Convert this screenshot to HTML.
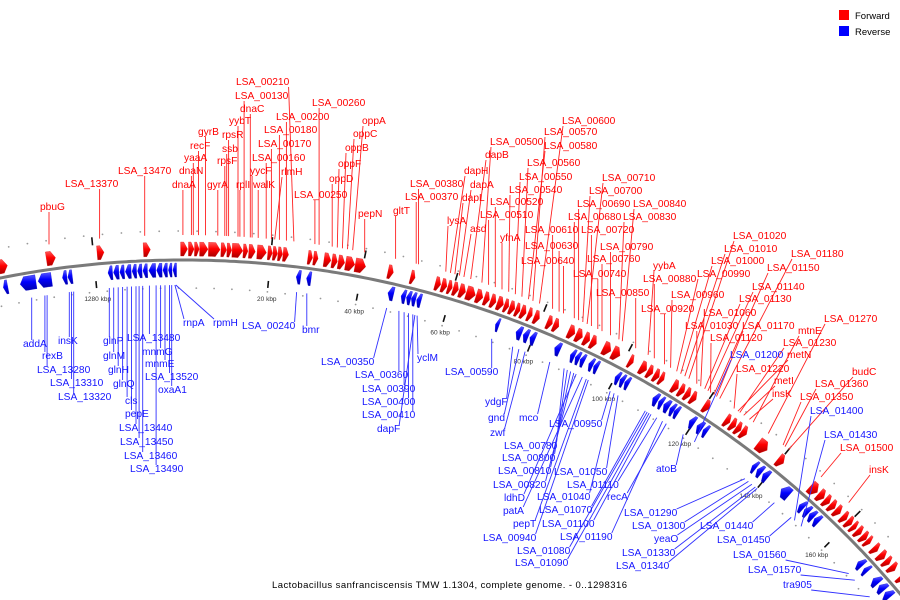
<!DOCTYPE html>
<html><head><meta charset="utf-8">
<style>
html,body{margin:0;padding:0;background:#fff;width:900px;height:600px;overflow:hidden;}
svg{display:block;overflow:hidden;}
text{font-family:"Liberation Sans",sans-serif;}
</style></head>
<body>
<svg id="chart" width="900" height="600" viewBox="0 0 900 600" xmlns="http://www.w3.org/2000/svg">
<defs>
<linearGradient id="gRed" x1="0" y1="0" x2="0" y2="1">
<stop offset="0" stop-color="#ff5a5a"/><stop offset="0.45" stop-color="#ff0000"/><stop offset="1" stop-color="#a80000"/>
</linearGradient>
<linearGradient id="gBlue" x1="0" y1="0" x2="0" y2="1">
<stop offset="0" stop-color="#5a5aff"/><stop offset="0.45" stop-color="#0000ff"/><stop offset="1" stop-color="#0000a8"/>
</linearGradient>
<clipPath id="frame"><rect x="0" y="0" width="900" height="600"/></clipPath>
</defs>
<g clip-path="url(#frame)">
<g id="dots"></g>
<g id="ticks"></g>
<polyline id="backbone" fill="none" stroke="#7a7a7a" stroke-width="3"/>
<g id="genes"></g>
<g id="leaders"></g>
<g id="labels"></g>
</g>
<g>
<rect x="839" y="10" width="10" height="10" fill="#ff0000"/>
<text x="855" y="19" font-size="9.5" fill="#000">Forward</text>
<rect x="839" y="26" width="10" height="10" fill="#0000ff"/>
<text x="855" y="35" font-size="9.5" fill="#000">Reverse</text>
</g>
<text x="272" y="588" font-size="9.5" textLength="355" lengthAdjust="spacing" fill="#000">Lactobacillus sanfranciscensis TMW 1.1304, complete genome. - 0..1298316</text>
</svg>
<script>
const GENOME_KBP = 1298.316;
const fwdStart = [-39,-28.5,-17.5,-7.5,0.5,2.2,3.5,4.6,6.5,9.2,10.5,11.6,14,15.2,17,19.3,20.4,21.5,22.6,28,29.2,31.5,33.2,34.6,36.2,38.3,45.5,50.5,56,57.4,58.8,60,61.4,63,65.2,67,68.5,70,71.6,72.8,74.2,75.4,77,78.5,81.5,83,86.5,88.3,90.2,91.8,94.8,97,101,103.8,105.6,107.2,108.6,111.8,113.5,115,116.5,119.8,125.3,126.8,128.2,129.6,134,139.5,148.6,151,152.8,154.4,156,158,159.5,161,162.4,164,165.4,167.5,169.5,171.3,173,176,177.8];
const fwdLen = [2,2,1.5,1.5,1.5,1.2,1,1.8,2.5,1.2,1,2.3,1,1.4,2,1,1,1,1.2,1,1,1.5,1.2,1.4,2,2.3,1.2,1,1.2,1.2,1,1.2,1.4,2,1.5,1.2,1.2,1.4,1,1.2,1,1.2,1,1.2,1.2,1.2,1.5,1.5,1.3,1.3,1.8,1.8,1,1.5,1.2,1.2,1,1.4,1.2,1.2,1.2,1.4,1.2,1.2,1.2,1.3,2.5,1.5,2,1.5,1.3,1.3,1.3,1.2,1.2,1,1.2,1.2,1,1.2,1.4,1.2,1.3,1.2,1.5];
const revStart = [-41,-38.8,-35,-31,-25.6,-24.4,-15.5,-14.3,-12.9,-11.7,-10.2,-9,-7.8,-6.5,-4.8,-3.4,-2.2,-1.2,26,28.3,46.5,49.5,50.7,51.8,53,71.2,76,77.7,79.3,85.2,89,90.2,91.4,93.5,94.7,100,101.2,102.4,109.5,111,112.3,113.9,115,119,121,122.6,136,137.4,139,144.2,149.5,151,152.5,154,167.5,169.5,172.5,174.5,176.5];
const revLen = [1,1,3.5,3,1,1,1,1.2,1,1.3,1,1,1,1.5,1.2,1,0.8,0.8,1,1,1.3,1,1,1,1,0.8,1.3,1.2,1.2,1.3,1,1,1,1,1,1,1,1,1.2,1,1.3,1,1,1.2,1.3,1,1,1.2,1.3,2.2,1.2,1.2,1.2,1.2,1.3,1,1.5,1.5,1.5];
const tickKbp = [1280,20,40,60,80,100,120,140,160];
const tickLabels = ["1280 kbp","20 kbp","40 kbp","60 kbp","80 kbp","100 kbp","120 kbp","140 kbp","160 kbp"];

const fwdLabelNames = ["pbuG","LSA_13370","LSA_13470","dnaA","dnaN","yaaA","recF","gyrB","gyrA","rpsF","ssb","rpsR","yybT","rplI","LSA_00130","dnaC","yycF","walK","LSA_00160","LSA_00170","rlmH","LSA_00180","LSA_00200","LSA_00210","LSA_00250","LSA_00260","oppD","oppF","oppB","oppC","oppA","pepN","gltT","LSA_00370","LSA_00380","lysA","asd","dapL","dapA","dapH","dapB","LSA_00500","LSA_00510","LSA_00520","yfnA","LSA_00540","LSA_00550","LSA_00560","LSA_00580","LSA_00570","LSA_00600","LSA_00610","LSA_00630","LSA_00640","LSA_00680","LSA_00690","LSA_00700","LSA_00710","LSA_00720","LSA_00740","LSA_00760","LSA_00790","LSA_00830","LSA_00840","LSA_00850","yybA","LSA_00880","LSA_00920","LSA_00960","LSA_00990","LSA_01000","LSA_01010","LSA_01020","LSA_01030","LSA_01060","LSA_01130","LSA_01140","LSA_01120","LSA_01150","LSA_01170","LSA_01180","LSA_01220","metN","LSA_01230","metI","insK","mtnE","LSA_01270","LSA_01350","LSA_01360","budC","LSA_01500","insK"];
const fwdLabelKbp = [-27.5,-16.7,-7.1,1.0,2.8,3.2,4.3,5.8,8.4,9.9,10.3,10.7,12.7,13.1,14.0,15.3,15.7,17.0,18.7,19.8,20.5,21.5,23.0,24.6,29.1,30.0,32.8,33.9,35.0,36.1,37.2,39.8,46.5,51.0,51.5,57.5,61.5,59.5,60.5,58.5,63,65.5,67,68.5,70,71.5,73,74.5,76,77,78.5,81.5,83,84,86.5,87.5,88.5,89.5,90.5,92,93,95,97,97.8,101,104,105.5,108,109.5,111,112,113,114,116,117,118,118.8,119.5,120.3,121,121.8,125.5,126.5,127,128,129.5,130.5,134.5,138.5,139,140,149,157];
const revLabelNames = ["addA","rexB","LSA_13280","insK","LSA_13310","LSA_13320","glnP","glnM","glnH","glnQ","cls","pepE","LSA_13440","LSA_13450","LSA_13460","LSA_13490","LSA_13480","mnmG","mnmE","LSA_13520","oxaA1","rnpA","rpmH","LSA_00240","bmr","LSA_00350","LSA_00360","LSA_00390","LSA_00400","LSA_00410","dapF","yclM","LSA_00590","ydgF","gnd","mco","zwf","LSA_00950","LSA_00780","LSA_00800","LSA_00810","LSA_00820","ldhD","patA","pepT","LSA_00940","LSA_01050","LSA_01110","LSA_01040","LSA_01070","LSA_01100","LSA_01190","LSA_01080","LSA_01090","recA","atoB","LSA_01200","LSA_01290","LSA_01300","yeaO","LSA_01330","LSA_01340","LSA_01440","LSA_01450","LSA_01400","LSA_01430","LSA_01560","LSA_01570","tra905"];
const revLabelKbp = [-33,-30,-29.5,-24.5,-24,-23.5,-15.5,-14.5,-13.5,-12.5,-11.5,-10.5,-9.5,-8.8,-8,-5,-6.5,-4,-3,-2,-1.5,-0.8,-0.6,26.5,28.8,47,49.8,51,52,53,53.5,54,71.5,76.5,78,85.5,79.5,100.5,89,89.8,90.6,91.4,92,93.5,94.5,95,102.5,112.5,101.5,109.5,111,114,110,110.5,115,119.5,122.5,136.5,137.5,138.5,139.5,140,145,150,151,153,168,170,175];

/* layout (text positions), kept separate from the data */
const fwdLabelX = [40,65,118,172,179,184,190,198,207,217,222,222,229,236,235,240,250,253,252,258,281,264,276,236,294,312,329,338,345,353,362,358,393,405,410,447,470,462,470,464,485,490,480,490,500,509,519,527,544,544,562,525,525,521,568,577,589,602,581,573,587,600,623,633,596,653,643,641,671,697,711,724,733,685,703,739,752,710,767,742,791,736,787,783,774,772,798,824,800,815,852,840,869];
const fwdLabelY = [206,183,170,184,170,157,145,131,184,160,148,134,120,184,95,108,170,184,157,143,171,129,116,81,194,102,178,163,147,133,120,213,210,196,183,220,228,197,184,170,154,141,214,201,237,189,176,162,145,131,120,229,245,260,216,203,190,177,229,273,258,246,216,203,292,265,278,308,294,273,260,248,235,325,312,298,286,337,267,325,253,368,354,342,380,393,330,318,396,383,371,447,469];
const revLabelX = [23,42,37,58,50,58,103,103,108,113,125,125,119,120,124,130,127,142,145,145,158,183,213,242,302,321,355,362,362,362,377,417,445,485,488,519,490,549,504,502,498,493,504,503,513,483,554,567,537,539,542,560,517,515,607,656,730,624,632,654,622,616,700,717,810,824,733,748,783];
const revLabelY = [343,355,369,340,382,396,340,355,369,383,400,413,427,441,455,468,337,351,363,376,389,322,322,325,329,361,374,388,401,414,428,357,371,401,417,417,432,423,445,457,470,484,497,510,523,537,471,484,496,509,523,536,550,562,496,468,354,512,525,538,552,565,525,539,410,434,554,569,584];

const SVGNS = "http://www.w3.org/2000/svg";
const CX = 183, CY = 1197;
function norm(k){ return k > GENOME_KBP/2 ? k - GENOME_KBP : k; }
function ang(k){ return -0.005 + 0.0049 * norm(k); }
function pt(k, r){ const a = ang(k); return [CX + r*Math.sin(a), CY - r*Math.cos(a)]; }
function ptA(a, r){ return [CX + r*Math.sin(a), CY - r*Math.cos(a)]; }
function mk(tag){ return document.createElementNS(SVGNS, tag); }

/* backbone arc, only within the visible frame */
(function(){
  const pts = [];
  for (let a = -0.20; a <= 0.879; a += 0.005) {
    const p = ptA(a, 937);
    pts.push(p[0].toFixed(1) + ',' + Math.min(p[1], 599).toFixed(1));
  }
  document.getElementById('backbone').setAttribute('points', pts.join(' '));
})();

/* dots */
const dotsG = document.getElementById('dots');
for (let k = -44; k <= 176; k += 4) {
  [966, 909].forEach(function(r){
    const p = pt(k, r);
    if (p[1] > 598 || p[0] < 0 || p[0] > 900) return;
    const c = mk('circle');
    
    
    c.setAttribute('cx', p[0].toFixed(1)); c.setAttribute('cy', p[1].toFixed(1));
    c.setAttribute('r', '0.9'); c.setAttribute('fill', '#999');
    dotsG.appendChild(c);
  });
}
/* ticks */
const ticksG = document.getElementById('ticks');
tickKbp.forEach(function(k, i){
  [[956,964],[913,920]].forEach(function(rr){
    const a = pt(k, rr[0]), b = pt(k, rr[1]);
    const l = mk('line');
    
    
    l.setAttribute('x1', a[0]); l.setAttribute('y1', a[1]); l.setAttribute('x2', b[0]); l.setAttribute('y2', b[1]);
    l.setAttribute('stroke', '#111'); l.setAttribute('stroke-width', '1.6');
    ticksG.appendChild(l);
  });
  const p = pt(k, 902);
  const t = mk('text');
  
  
  t.setAttribute('x', p[0].toFixed(1)); t.setAttribute('y', (p[1]+2).toFixed(1));
  t.setAttribute('font-size', '6.5'); t.setAttribute('fill', '#333'); t.setAttribute('text-anchor', 'middle');
  t.textContent = tickLabels[i];
  ticksG.appendChild(t);
});

/* genes */
const genesG = document.getElementById('genes');
function arrow(s, len, fwd){
  const r0 = fwd ? 941 : 920, r1 = fwd ? 955 : 934, rm = (r0+r1)/2;
  const a0 = ang(s), a1 = ang(s+len);
  const h = Math.min((a1-a0)*0.55, 4.5/948);
  const pts = [];
  const N = 4;
  if (fwd) {
    for (let i=0;i<=N;i++){ pts.push(ptA(a0 + (a1-h-a0)*i/N, r1)); }
    pts.push(ptA(a1, rm));
    for (let i=N;i>=0;i--){ pts.push(ptA(a0 + (a1-h-a0)*i/N, r0)); }
  } else {
    pts.push(ptA(a0, rm));
    for (let i=0;i<=N;i++){ pts.push(ptA(a0+h + (a1-a0-h)*i/N, r1)); }
    for (let i=N;i>=0;i--){ pts.push(ptA(a0+h + (a1-a0-h)*i/N, r0)); }
  }
  const p = mk('polygon');
  
  
  p.setAttribute('points', pts.map(q => q[0].toFixed(1)+','+q[1].toFixed(1)).join(' '));
  p.setAttribute('fill', fwd ? 'url(#gRed)' : 'url(#gBlue)');
  p.setAttribute('stroke', fwd ? '#e00000' : '#0000d0');
  p.setAttribute('stroke-width', '0.3');
  genesG.appendChild(p);
}
fwdStart.forEach(function(s, i){ arrow(s, fwdLen[i], true); });
revStart.forEach(function(s, i){ arrow(s, revLen[i], false); });

/* labels */
const labelsG = document.getElementById('labels');
const leadG = document.getElementById('leaders');
function addLabels(names, kbps, xs, ys, fwd){
  names.forEach(function(n, i){
    const t = mk('text');
    
    
    t.setAttribute('x', xs[i]); t.setAttribute('y', ys[i] + 4);
    t.setAttribute('font-size', '10.2');
    t.setAttribute('fill', fwd ? '#ff0000' : '#1414ff');
    t.textContent = n;
    labelsG.appendChild(t);
    const bb = t.getBBox();
    const rp = pt(kbps[i], fwd ? 962 : 912);
    const ax = Math.min(Math.max(rp[0], bb.x + 1), bb.x + bb.width - 1);
    const ay = Math.min(Math.max(rp[1], bb.y + 1), bb.y + bb.height - 1);
    const l = mk('line');
    
    
    l.setAttribute('x1', rp[0].toFixed(1)); l.setAttribute('y1', rp[1].toFixed(1));
    l.setAttribute('x2', ax.toFixed(1)); l.setAttribute('y2', ay.toFixed(1));
    l.setAttribute('stroke', fwd ? '#ff2020' : '#3030ff');
    l.setAttribute('stroke-width', '0.9');
    leadG.appendChild(l);
  });
}
addLabels(fwdLabelNames, fwdLabelKbp, fwdLabelX, fwdLabelY, true);
addLabels(revLabelNames, revLabelKbp, revLabelX, revLabelY, false);
</script>
</body></html>
